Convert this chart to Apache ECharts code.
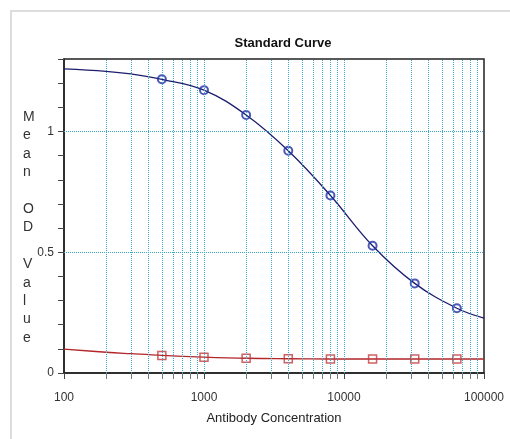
<!DOCTYPE html>
<html>
<head>
<meta charset="utf-8">
<script src="https://cdn.jsdelivr.net/npm/echarts@6/dist/echarts.min.js"></script>
<style>
html,body{margin:0;padding:0;background:#fff;}
#chart{width:510px;height:439px;}
</style>
</head>
<body>
<div id="chart"></div>
<script>
// Fitted curves
const curveX = [100, 200, 300, 500, 1000, 2000, 4000, 8000, 16000, 32000, 64000, 100000];
const blueCurve = [1.259, 1.249, 1.238, 1.216, 1.171, 1.068, 0.920, 0.735, 0.527, 0.371, 0.268, 0.227];
const redCurve = [0.099, 0.086, 0.080, 0.073, 0.066, 0.061, 0.059, 0.058, 0.058, 0.058, 0.058, 0.058];
// Measured standards
const pointX = [500, 1000, 2000, 4000, 8000, 16000, 32000, 64000];
const bluePoints = [1.216, 1.171, 1.068, 0.920, 0.735, 0.527, 0.371, 0.268];
const redPoints = [0.072, 0.065, 0.061, 0.059, 0.058, 0.058, 0.058, 0.058];
// Grid lines and labels
const gridX = [200, 300, 400, 500, 600, 700, 800, 900, 1000,
               2000, 3000, 4000, 5000, 6000, 7000, 8000, 9000, 10000,
               20000, 30000, 40000, 50000, 60000, 70000, 80000, 90000];
const gridY = [0.5, 1];
const yLabels = ['0', '0.5', '1'];
const titleText = 'Standard Curve';
const xTitle = 'Antibody Concentration';
const yTitle = 'Mean OD Value';

const FONT = '"Liberation Sans", Arial, sans-serif';
const gridColor = '#3aa9c8';

const zip = (xs, ys) => xs.map((x, i) => [x, ys[i]]);
const yNameText = yTitle.split(' ').map(w => w.split('').join('\n')).join('\n\n');

const chart = echarts.init(document.getElementById('chart'), null, {renderer: 'canvas'});
chart.setOption({
  backgroundColor: '#ffffff',
  animation: false,
  title: {
    text: titleText,
    left: 278, top: 32, textAlign: 'center',
    textStyle: {fontFamily: FONT, fontWeight: 'bold', fontSize: 13, color: '#111'}
  },
  graphic: [
    {type: 'rect', shape: {x: 11, y: 11, width: 540, height: 460}, style: {fill: null, stroke: '#dddddd', lineWidth: 2}, silent: true},
    {type: 'text', left: 23, top: 108, style: {text: yNameText, font: '14px ' + FONT, lineHeight: 18.4, fill: '#333', align: 'center'}}
  ],
  grid: {left: 64, right: 26, top: 59, bottom: 66, show: true, borderColor: '#222', borderWidth: 1.5, backgroundColor: 'transparent'},
  xAxis: {
    type: 'log', logBase: 10, min: 100, max: 100000,
    name: xTitle, nameLocation: 'middle', nameGap: 39,
    nameTextStyle: {fontFamily: FONT, fontSize: 13, color: '#222'},
    axisLine: {show: true, lineStyle: {color: '#222', width: 1.5}},
    axisTick: {show: true, length: 6, lineStyle: {color: '#444'}},
    minorTick: {show: true, splitNumber: 9, length: 6, lineStyle: {color: '#777'}},
    axisLabel: {fontFamily: FONT, fontSize: 12, color: '#333', margin: 19, formatter: v => String(v)},
    splitLine: {show: false},
    minorSplitLine: {show: false}
  },
  yAxis: {
    type: 'value', min: 0, max: 1.3, interval: 0.1,
    axisLine: {show: true, lineStyle: {color: '#222', width: 1.5}},
    axisTick: {show: true, length: 6, lineStyle: {color: '#444'}},
    axisLabel: {
      fontFamily: FONT, fontSize: 12, color: '#333', margin: 10,
      formatter: v => {
        const s = String(Math.round(v * 10) / 10);
        return yLabels.indexOf(s) >= 0 ? s : '';
      }
    },
    splitLine: {show: false}
  },
  series: [
    {type: 'line', data: [], z: 1, silent: true,
      markLine: {
        silent: true, symbol: 'none', label: {show: false}, animation: false,
        lineStyle: {color: gridColor, type: 'dotted', width: 1},
        emphasis: {disabled: true},
        data: gridX.map(x => ({xAxis: x})).concat(gridY.map(y => ({yAxis: y})))
      }
    },
    {type: 'line', data: zip(curveX, blueCurve), smooth: 0.4, showSymbol: false, lineStyle: {color: '#1d1d6e', width: 1.3}, z: 3},
    {type: 'line', data: zip(curveX, redCurve), smooth: 0.4, showSymbol: false, lineStyle: {color: '#b3262a', width: 1.3}, z: 3},
    {type: 'scatter', data: zip(pointX, bluePoints), symbol: 'circle', symbolSize: 8,
      itemStyle: {color: 'rgba(255,255,255,0)', borderColor: '#1f2fa8', borderWidth: 2}, z: 4},
    {type: 'scatter', data: zip(pointX, redPoints), symbol: 'rect', symbolSize: 8,
      itemStyle: {color: 'rgba(255,255,255,0)', borderColor: '#c0393c', borderWidth: 1.5}, z: 4}
  ]
});
</script>
</body>
</html>
